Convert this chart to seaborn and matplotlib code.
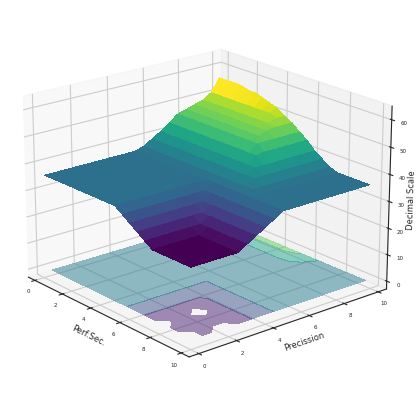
import numpy as np
import matplotlib
matplotlib.use("Agg")
import matplotlib.pyplot as plt
import seaborn as sns

sns.set_style("white")
perf_sec = [0.1 + i * 0.49 for i in range(21)]
precission = [0.1 + i * 0.49 for i in range(21)]
# rows: precission, cols: perf.sec
surface_z = [
 [36,36,36,36,36,36,36,36,36,36,36,34,32,30,28,26,26,26,26,26,26],
 [36,36,36,36,36,36,36,36,36,36,36,34,32,30,28,26,26,26,26,26,26],
 [36,36,36,36,36,36,36,36,36,36,36,34,32,30,28,26,26,26,26,26,26],
 [36,36,36,36,36,36,36,36,36,36,36,34,32,30,28,26,26,26,26,26,26],
 [36,36,36,36,36,36,36,36,36,36,36,34,32,30,28,26,26,26,26,26,26],
 [36,36,36,36,36,36,36,36,36,36,36,34,32,30,28,26,26,26,26,26,26],
 [36,36,36,36,36,36,36,36,36,36,36,34,32,30,28,28,28,28,28,28,28],
 [36,36,36,36,36,36,36,36,36,36,36,34,32,30,30,30,30,30,30,30,30],
 [36,36,36,36,36,36,36,36,36,36,36,34,32,32,32,32,32,32,32,32,32],
 [36,36,36,36,36,36,36,36,36,36,36,34,34,34,34,34,34,34,34,34,34],
 [36,36,36,36,36,36,36,36,36,36,36,36,36,36,36,36,36,36,36,36,36],
 [37,37,37,37,37,37,37,37,37,37,37,37,37,37,37,37,36,36,36,36,36],
 [39,39,39,39,39,39,39,39,39,39,39,39,39,39,39,37,36,36,36,36,36],
 [41,41,41,41,41,41,41,41,41,41,41,41,41,41,39,37,36,36,36,36,36],
 [43.5,43.5,43.5,43.5,43.5,43.5,43.5,43.5,43.5,43.5,43.5,43.5,43.5,41,39,37,36,36,36,36,36],
 [46,46,46,46,46,46,46,46,46,46,46,46,44,41,39,37,36,36,36,36,36],
 [47,47,47,47,47,47,47,47,47,47,47,46,44,41,39,37,36,36,36,36,36],
 [48,48,48,48,48,48,48,48,48,48,48,46,44,41,39,37,36,36,36,36,36],
 [49,49,49,49,49,49,49,49,49,49,48.5,46,44,41,39,37,36,36,36,36,36],
 [51,51,51,51,51,51,51,51,51,50,48.5,46,44,41,39,37,36,36,36,36,36],
 [56,56,56,56,55,55,54,53,52,50,48.5,46,44,41,39,37,36,36,36,36,36],
]
floor_x = [0.25 + i * 0.48 for i in range(21)]
floor_y = [0.25 + i * 0.48 for i in range(21)]
n = float("nan")
floor_z = [
 [36,36,36,36,36,36,36,36,36,36,36,35,33.5,31,29,28,n,26,26,n,n],
 [36,36,36,36,36,36,36,36,36,36,36,35,33.5,31,29,28,26,26,26,26,26],
 [36,36,36,36,36,36,36,36,36,36,36,35,33.5,31,29,28,26,26,26,26,26],
 [36,36,36,36,36,36,36,36,36,36,36,35,33.5,31,29,28,26,26,26,26,n],
 [36,36,36,36,36,36,36,36,36,36,36,35,33.5,31,29,28,n,26,26,26,n],
 [36,36,36,36,36,36,36,36,36,36,36,35,33.5,31,29,28,28,28,28,28,28],
 [36,36,36,36,36,36,36,36,36,36,36,35,33.5,31,29,29,29,29,29,29,29],
 [36,36,36,36,36,36,36,36,36,36,36,35,33.5,31,31,31,31,31,31,31,31],
 [36,36,36,36,36,36,36,36,36,36,36,35,33.5,33.5,33.5,33.5,33.5,33.5,33.5,33.5,33.5],
 [36,36,36,36,36,36,36,36,36,36,36,35,35,35,35,35,35,35,35,35,35],
 [36,36,36,36,36,36,36,36,36,36,36,36,36,36,36,36,36,36,36,36,36],
 [36,36,36,36,36,36,36,36,36,36,36,36,36,36,36,36,36,36,36,36,36],
 [36,36,36,36,36,36,36,36,36,36,36,36,36,36,36,36,36,36,36,36,36],
 [37,37,37,37,37,37,37,37,37,37,37,36,36,36,36,36,36,36,36,36,36],
 [37,37,37,37,37,37,37,37,37,37,37,36,36,36,36,36,36,36,36,36,36],
 [38,38,38,38,38,38,38,38,38,38,38,36,36,36,36,36,36,36,36,36,36],
 [38,38,38,38,38,38,38,38,38,38,38,37,36,36,36,36,36,36,36,36,36],
 [38,38,38,38,38,38,38,38,38,38,38,38,38,36,36,36,36,36,36,36,36],
 [41,41,41,41,41,41,41,41,41,41,41,41,40.5,39,37,36,36,36,36,36,36],
 [44,44,44,44,44,44,44,44,44,44,44,43,42,41,38,37,36,36,36,36,36],
 [48,48,48,48,48,48,48,48,48,48,48,46,44,42,39.5,37,36,36,36,36,36],
]
levels = [25, 30, 35, 40, 45, 50, 55]

X, Y = np.meshgrid(perf_sec, precission)
Z = np.array(surface_z, float)
FX, FY = np.meshgrid(floor_x, floor_y)
FZ = np.ma.masked_invalid(np.array(floor_z, float))

fig = plt.figure(figsize=(4.16, 4.02), dpi=100)
ax = fig.add_axes([-0.001, 0.004, 0.967, 0.998], projection="3d")
ax.plot_surface(X, Y, Z, cmap="viridis", rstride=1, cstride=1, linewidth=0, antialiased=False)
ax.contourf(FX, FY, FZ, zdir="z", offset=0, cmap="viridis", alpha=0.5, levels=levels)
ax.view_init(elev=20, azim=-40)
ax.set_xlim(-0.5, 10.5); ax.set_ylim(-0.5, 10.5); ax.set_zlim(-3, 65)
ax.set_xlabel("Perf.Sec.", fontsize=6, labelpad=-9)
ax.set_ylabel("Precission", fontsize=6, labelpad=-10)
ax.set_zlabel("Decimal Scale", fontsize=6, labelpad=-12)
ax.tick_params(labelsize=4, pad=-3)
fig.savefig("out.png", dpi=100)
